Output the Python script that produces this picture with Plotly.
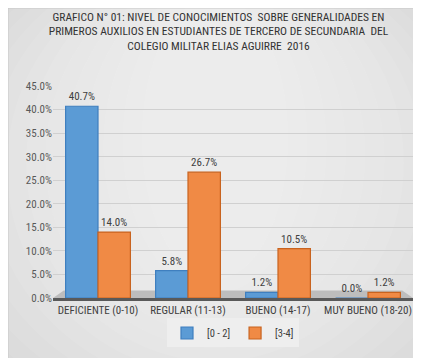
import plotly.graph_objects as go

categories = ["DEFICIENTE (0-10)", "REGULAR (11-13)", "BUENO (14-17)", "MUY BUENO (18-20)"]
series_names = ["[0 - 2]", "[3-4]"]
values_0_2 = [0.407, 0.058, 0.012, 0.000]
values_3_4 = [0.140, 0.267, 0.105, 0.012]
y_ticks = [0, 0.05, 0.10, 0.15, 0.20, 0.25, 0.30, 0.35, 0.40, 0.45]

FONT = "Roboto Condensed, Liberation Sans Narrow, sans-serif"

fig = go.Figure()
fig.add_trace(go.Bar(
    name=series_names[0], x=categories, y=values_0_2,
    marker=dict(color="#5B9BD5", line=dict(color="#3f7fbf", width=1.2)),
    text=[f"{v*100:.1f}%" for v in values_0_2], textposition="outside",
    constraintext="none",
    textfont=dict(color="#404040", size=11, family=FONT), cliponaxis=False,
))
fig.add_trace(go.Bar(
    name=series_names[1], x=categories, y=values_3_4,
    marker=dict(color="#F08A45", line=dict(color="#c8631f", width=1.2)),
    text=[f"{v*100:.1f}%" for v in values_3_4], textposition="outside",
    constraintext="none",
    textfont=dict(color="#404040", size=11, family=FONT), cliponaxis=False,
))

# soft radial background (many faint layers)
shapes = [dict(type="rect", xref="paper", yref="paper", x0=-0.3, x1=1.2, y0=-0.4, y1=1.5,
               fillcolor="#d4d4d4", line=dict(width=0), layer="below")]
n = 14
for i in range(n):
    f = i / n
    shapes.append(dict(type="circle", xref="paper", yref="paper",
                       x0=-0.45 + f * 0.75, x1=1.35 - f * 0.75,
                       y0=-0.75 + f * 0.9, y1=1.75 - f * 0.35,
                       fillcolor="white", opacity=0.075, line=dict(width=0), layer="below"))
# floor
shapes.append(dict(type="path", xref="paper", yref="paper",
                   path="M 0,0 L 1.0,0 L 0.97,0.035 L 0.03,0.035 Z",
                   fillcolor="#bdbdbd", line=dict(width=0), layer="below"))
# outer frame
shapes.append(dict(type="rect", xref="paper", yref="paper",
                   x0=-45/360, x1=1 + 16/360, y0=-68/212, y1=1 + 78/212,
                   line=dict(color="#c8c8c8", width=1), layer="below"))

fig.update_layout(
    width=421, height=358,
    margin=dict(l=45, r=16, t=78, b=68),
    paper_bgcolor="#d9d9d9", plot_bgcolor="rgba(0,0,0,0)",
    barmode="group", bargap=0.28, bargroupgap=0.0,
    font=dict(family=FONT, color="#404040", size=11),
    title=dict(
        text="GRAFICO N° 01: NIVEL DE CONOCIMIENTOS  SOBRE GENERALIDADES EN<br>"
             "PRIMEROS AUXILIOS EN ESTUDIANTES DE TERCERO DE SECUNDARIA  DEL<br>"
             "COLEGIO MILITAR ELIAS AGUIRRE  2016",
        x=0.5, xanchor="center", y=0.965, yanchor="top",
        font=dict(family=FONT, size=11.5, color="#333333"),
    ),
    xaxis=dict(showline=True, linecolor="#595959", linewidth=2.5, ticks="",
               tickfont=dict(size=11, color="#404040"), showgrid=False,
               tickangle=0, ticklabelstandoff=0),
    yaxis=dict(range=[0, 0.45], tickvals=y_ticks, tickformat=".1%",
               showgrid=True, gridcolor="#d0d0d0", gridwidth=1, zeroline=False,
               tickfont=dict(size=11, color="#595959"), ticks=""),
    legend=dict(orientation="h", x=0.5, xanchor="center", y=-0.165, yanchor="middle",
                bgcolor="rgba(238,238,238,0.9)", font=dict(size=10.5, color="#404040"),
                itemwidth=30, traceorder="normal"),
    shapes=shapes,
)

fig.write_html("out.html")
